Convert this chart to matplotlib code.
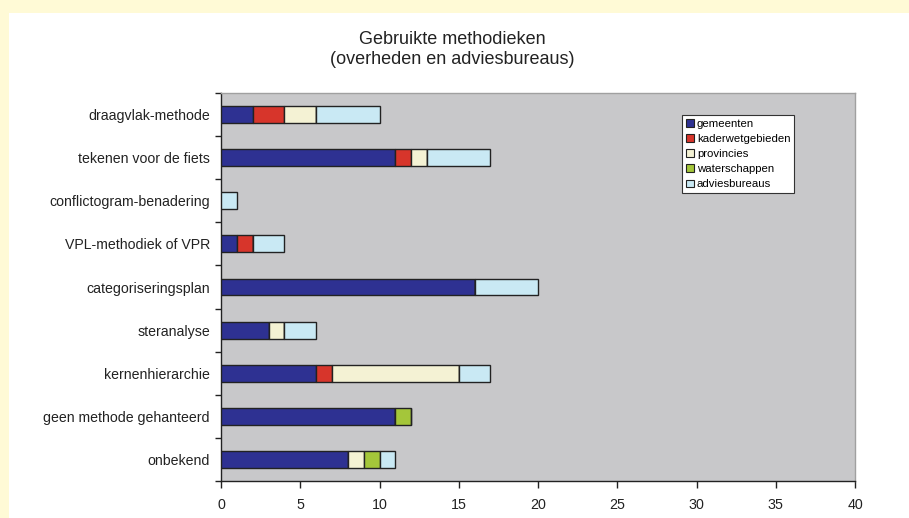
import matplotlib
matplotlib.use("Agg")
import matplotlib.pyplot as plt
import numpy as np

categories = [
    "draagvlak-methode",
    "tekenen voor de fiets",
    "conflictogram-benadering",
    "VPL-methodiek of VPR",
    "categoriseringsplan",
    "steranalyse",
    "kernenhierarchie",
    "geen methode gehanteerd",
    "onbekend",
]
series_names = ["gemeenten", "kaderwetgebieden", "provincies", "waterschappen", "adviesbureaus"]
gemeenten = [2, 11, 0, 1, 16, 3, 6, 11, 8]
kaderwetgebieden = [2, 1, 0, 1, 0, 0, 1, 0, 0]
provincies = [2, 1, 0, 0, 0, 1, 8, 0, 1]
waterschappen = [0, 0, 0, 0, 0, 0, 0, 1, 1]
adviesbureaus = [4, 4, 1, 2, 4, 2, 2, 0, 1]
x_ticks = [0, 5, 10, 15, 20, 25, 30, 35, 40]

colors = ["#2E3192", "#D7352B", "#F4F2D4", "#A4C63A", "#C9E9F4"]

plt.rcParams["font.family"] = ["Liberation Sans", "DejaVu Sans"]

W, H = 909, 518
fig = plt.figure(figsize=(W / 100, H / 100), dpi=100)
fig.patch.set_facecolor("#FFFAD6")
# white panel behind the chart
fig.patches.append(plt.Rectangle((9 / W, 0), 1 - 9 / W, 1 - 13 / H,
                                 transform=fig.transFigure, facecolor="white",
                                 edgecolor="none", zorder=-5))

ax = fig.add_axes([221 / W, 1 - 481 / H, (855 - 221) / W, (481 - 93) / H], zorder=2)
ax.set_facecolor("#C8C8CA")

y = np.arange(len(categories))
left = np.zeros(len(categories))
for name, vals, c in zip(series_names,
                         [gemeenten, kaderwetgebieden, provincies, waterschappen, adviesbureaus],
                         colors):
    vals = np.array(vals, dtype=float)
    ax.barh(y, vals, left=left, height=0.39, color=c, edgecolor="#222222",
            linewidth=1.0, label=name, zorder=3)
    left += vals

ax.set_xlim(0, 40)
ax.set_ylim(len(categories) - 0.5, -0.5)
ax.set_xticks(x_ticks)
ax.set_xticklabels([str(t) for t in x_ticks], fontsize=10.3, color="#222222")
ax.set_yticks(y)
ax.set_yticklabels(categories, fontsize=10.2, color="#222222")
ax.tick_params(axis="y", length=0, pad=8)
ax.set_yticks(np.arange(len(categories) + 1) - 0.5, minor=True)
ax.tick_params(axis="y", which="minor", length=4, width=1, color="#222222")
ax.tick_params(axis="x", length=5, width=1, color="#222222", pad=7)

for s in ["left", "bottom"]:
    ax.spines[s].set_color("#222222")
    ax.spines[s].set_linewidth(1)
for s in ["top", "right"]:
    ax.spines[s].set_color("#A0A0A0")
    ax.spines[s].set_linewidth(1)

leg = ax.legend(loc="upper left",
                bbox_to_anchor=((682 - 221) / (855 - 221), 1 - (115 - 93) / (481 - 93)),
                fontsize=8.2, frameon=True, fancybox=False, borderpad=0.35,
                handlelength=0.7, handleheight=0.7, handletextpad=0.25,
                labelspacing=0.45, borderaxespad=0)
leg.get_frame().set_edgecolor("#333333")
leg.get_frame().set_linewidth(0.8)
leg.get_frame().set_alpha(1)
for h in leg.legend_handles:
    h.set_linewidth(0.8)

fig.text(452 / W, 1 - 40 / H, "Gebruikte methodieken", ha="center", va="center",
         fontsize=13, color="#222222")
fig.text(452 / W, 1 - 60 / H, "(overheden en adviesbureaus)", ha="center", va="center",
         fontsize=13, color="#222222")

fig.savefig("out.png", dpi=100, facecolor=fig.get_facecolor())
